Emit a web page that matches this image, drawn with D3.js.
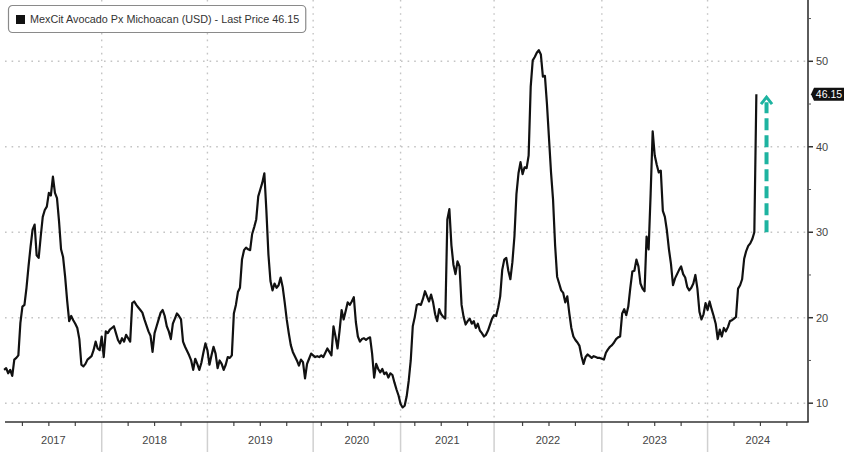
<!DOCTYPE html>
<html><head><meta charset="utf-8">
<script src="https://cdn.jsdelivr.net/npm/d3@7/dist/d3.min.js"></script>
<style>body{margin:0;background:#fff}svg{display:block}</style>
</head><body>
<svg id="chart" width="848" height="452"></svg>
<script>
const seriesName = "MexCit Avocado Px Michoacan (USD) - Last Price";
const years = [2017, 2018, 2019, 2020, 2021, 2022, 2023, 2024];
const weeksPerYear = [52, 52, 52, 43, 46, 53, 52, 52];
const firstWeek2017 = 4;
const v2017 = [13.9,14.1,13.5,13.9,13.2,15.1,15.3,15.6,19.4,21.3,21.5,23.5,26,28.3,30.3,30.9,27.3,27.0,29.5,31.8,32.6,33.0,34.6,34.3,36.5,34.6,34.0,31.3,28.0,27.1,24.8,22.0,19.6,20.2,19.7,19.3,18.8,17.5,14.5,14.3,14.6,15.1,15.3,15.5,16.2,17.2,16.4,16.2];
const v2018 = [17.8,15.4,18.4,18.2,18.6,18.8,19.0,18.2,17.4,17.0,17.6,17.2,18.0,17.6,17.2,21.7,21.9,21.5,21.2,20.9,20.6,19.8,19.1,18.4,17.9,16.0,18.2,19.0,19.8,20.6,20.9,20.2,19.0,18.4,17.5,19.3,19.9,20.5,20.2,19.8,17.2,16.6,16.1,15.6,15.0,13.9,15.2,14.6,13.9,14.7,15.9,17.0];
const v2019 = [16.2,14.5,15.6,16.6,15.8,14.1,15.0,14.6,13.9,14.5,15.4,15.3,15.6,20.5,21.5,23.0,23.5,26.8,27.9,28.2,28.0,27.9,29.8,30.6,31.5,34.2,35.0,35.8,36.9,32.5,27.4,24.3,23.2,24.0,23.5,23.8,24.7,23.6,21.8,19.8,18.2,16.8,16.0,15.5,15.0,14.4,15.1,14.8,12.9,14.6,15.2,15.8];
const v2020 = [15.6,15.4,15.5,15.4,15.6,15.4,15.9,16.4,16.0,15.6,19.0,17.8,16.4,18.5,20.9,19.8,20.8,21.8,21.5,21.9,22.4,19.5,17.8,17.2,17.5,17.6,17.4,17.6,17.7,15.8,13.0,14.6,14.0,13.6,14.0,13.4,13.6,13.0,13.5,13.3,12.4,11.6,10.9];
const v2021 = [9.9,9.5,9.7,10.8,12.6,15.0,19.0,20.1,21.5,21.6,21.5,22.2,23.1,22.5,21.9,22.7,21.8,20.4,19.6,21.0,20.4,20.1,19.9,31.5,32.7,28.5,26.2,25.1,26.6,26.0,21.5,20.1,19.2,19.6,19.9,19.3,19.6,18.8,19.3,18.5,18.2,17.8,18.0,18.5,19.2,19.9];
const v2022 = [20.3,20.2,21.2,22.5,25.6,26.8,27.0,25.5,24.5,26.5,29.5,34.5,36.9,38.2,36.8,37.6,37.5,39.0,47.0,50.1,50.5,51.0,51.3,50.8,48.2,48.3,45.0,41.0,37.0,33.8,28.5,24.8,24.0,23.2,22.9,21.8,22.5,20.5,18.8,17.8,17.4,17.1,16.7,15.5,14.6,15.4,15.7,15.5,15.3,15.5,15.4,15.3,15.3];
const v2023 = [15.2,15.1,15.9,16.3,16.6,16.8,17.1,17.5,17.7,17.8,20.5,21.0,20.3,21.3,23.5,25.4,25.5,26.8,26.0,24.0,23.4,23.1,29.5,28.0,34.5,41.8,39.0,37.9,37.0,37.2,32.5,31.8,30.2,28.0,26.3,23.8,24.6,25.1,25.6,26.0,25.1,24.7,23.6,23.2,23.5,24.0,25.0,23.4,20.7,19.8,20.4,21.7];
const v2024 = [20.9,21.9,21.0,20.2,19.3,17.5,18.6,17.8,18.8,18.4,18.9,19.6,19.7,19.9,20.1,23.4,23.8,24.5,26.9,27.8,28.4,28.7,29.2,30.0,46.15];
const yTicks = [10, 20, 30, 40, 50];
const yMinorTicks = [15, 25, 35, 45, 55];
const arrowWeek = 379, arrowFrom = 30, arrowTo = 45.8;

const yearValues = [v2017, v2018, v2019, v2020, v2021, v2022, v2023, v2024];
const yearStart = [];
let acc = 0;
weeksPerYear.forEach((w, k) => { yearStart.push(acc); acc += w; });
const data = [];
yearValues.forEach((arr, k) => {
  const off = k === 0 ? firstWeek2017 : 0;
  arr.forEach((v, j) => data.push({ w: yearStart[k] + off + j, v }));
});
const lastPrice = data[data.length - 1].v;

const svg = d3.select("#chart");
const W = 848, H = 452;
const plot = { left: 5, right: 808, top: 0, bottom: 422 };
const x = d3.scaleLinear().domain([4.43, 399.4]).range([plot.left, plot.right]);
const y = d3.scaleLinear().domain([7.8, 57.17]).range([plot.bottom, plot.top]);

const grid = svg.append("g");
grid.selectAll("line.h").data(yTicks).join("line")
  .attr("x1", plot.left).attr("x2", plot.right)
  .attr("y1", d => y(d)).attr("y2", d => y(d))
  .attr("stroke", "#c4c4c4").attr("stroke-width", 1.4).attr("stroke-dasharray", "1.6,5");
const yearEdges = yearStart.slice(1);
grid.selectAll("line.v").data(yearEdges).join("line")
  .attr("x1", d => x(d)).attr("x2", d => x(d))
  .attr("y1", plot.top).attr("y2", plot.bottom)
  .attr("stroke", "#c4c4c4").attr("stroke-width", 1.4).attr("stroke-dasharray", "1.6,5");
grid.selectAll("line.s").data(yearEdges).join("line")
  .attr("x1", d => x(d)).attr("x2", d => x(d))
  .attr("y1", plot.bottom).attr("y2", H)
  .attr("stroke", "#d0d0d0").attr("stroke-width", 1.5);

const qTicks = [];
years.forEach((yr, k) => {
  const s = yearStart[k], e = s + weeksPerYear[k];
  for (let q = 1; q <= 3; q++) {
    const w = k === years.length - 1 ? s + 13 * q : e - 13 * q;
    if (w > x.domain()[0] && w < x.domain()[1]) qTicks.push(w);
  }
});
svg.append("g").selectAll("line").data(qTicks).join("line")
  .attr("x1", d => x(d)).attr("x2", d => x(d))
  .attr("y1", plot.bottom).attr("y2", plot.bottom + 4)
  .attr("stroke", "#444").attr("stroke-width", 1.2);

svg.append("g").selectAll("text").data(years).join("text")
  .attr("x", (d, k) => {
    const s = Math.max(yearStart[k], x.domain()[0]);
    const e = Math.min(yearStart[k] + weeksPerYear[k], x.domain()[1]);
    return (x(s) + x(e)) / 2;
  })
  .attr("y", 444)
  .attr("text-anchor", "middle")
  .attr("font-family", "Liberation Sans, Arial, sans-serif")
  .attr("font-size", 11).attr("fill", "#444")
  .text(d => d);

svg.append("line").attr("x1", plot.left).attr("x2", plot.right + 0.75)
  .attr("y1", plot.bottom).attr("y2", plot.bottom)
  .attr("stroke", "#333").attr("stroke-width", 1.6);
svg.append("line").attr("x1", plot.right).attr("x2", plot.right)
  .attr("y1", plot.top).attr("y2", plot.bottom)
  .attr("stroke", "#333").attr("stroke-width", 1.6);

const yAxis = svg.append("g");
yAxis.selectAll("line.maj").data(yTicks).join("line")
  .attr("x1", plot.right).attr("x2", plot.right + 5)
  .attr("y1", d => y(d)).attr("y2", d => y(d))
  .attr("stroke", "#333").attr("stroke-width", 1.5);
yAxis.selectAll("line.min").data(yMinorTicks).join("line")
  .attr("x1", plot.right).attr("x2", plot.right + 3)
  .attr("y1", d => y(d)).attr("y2", d => y(d))
  .attr("stroke", "#555").attr("stroke-width", 1);
yAxis.selectAll("text").data(yTicks).join("text")
  .attr("x", plot.right + 8).attr("y", d => y(d) + 4)
  .attr("font-family", "Liberation Sans, Arial, sans-serif")
  .attr("font-size", 11).attr("fill", "#444")
  .text(d => d);

const line = d3.line().x(d => x(d.w)).y(d => y(d.v));
svg.append("path").datum(data)
  .attr("d", line).attr("fill", "none")
  .attr("stroke", "#111").attr("stroke-width", 2.2)
  .attr("stroke-linejoin", "round");

const ax = x(arrowWeek);
svg.append("line").attr("x1", ax).attr("x2", ax)
  .attr("y1", y(arrowFrom)).attr("y2", y(arrowTo) + 5)
  .attr("stroke", "#1db3a0").attr("stroke-width", 4)
  .attr("stroke-dasharray", "12,5");
svg.append("path")
  .attr("d", `M${ax - 5.5},${y(arrowTo) + 7} L${ax},${y(arrowTo)} L${ax + 5.5},${y(arrowTo) + 7}`)
  .attr("fill", "none").attr("stroke", "#1db3a0").attr("stroke-width", 3);

const ly = y(lastPrice);
const lbl = svg.append("g");
lbl.append("path")
  .attr("d", `M${plot.right + 3},${ly} L${plot.right + 6},${ly - 6.5} H${plot.right + 36} V${ly + 6.5} H${plot.right + 6} Z`)
  .attr("fill", "#111");
lbl.append("text").attr("x", plot.right + 21).attr("y", ly + 4)
  .attr("text-anchor", "middle")
  .attr("font-family", "Liberation Sans, Arial, sans-serif")
  .attr("font-size", 10.5).attr("fill", "#fff")
  .text(d3.format(".2f")(lastPrice));

const leg = svg.append("g");
const legText = leg.append("text").attr("x", 30).attr("y", 23)
  .attr("font-family", "Liberation Sans, Arial, sans-serif")
  .attr("font-size", 10.8).attr("fill", "#333")
  .text(`${seriesName} ${d3.format(".2f")(lastPrice)}`);
const tw = legText.node().getComputedTextLength();
leg.insert("rect", "text").attr("x", 8.5).attr("y", 5.5)
  .attr("width", tw + 28).attr("height", 27).attr("rx", 4)
  .attr("fill", "#fff").attr("stroke", "#8a8a8a").attr("stroke-width", 1.2);
leg.append("rect").attr("x", 16).attr("y", 15).attr("width", 9).attr("height", 9).attr("fill", "#111");
</script>
</body></html>
